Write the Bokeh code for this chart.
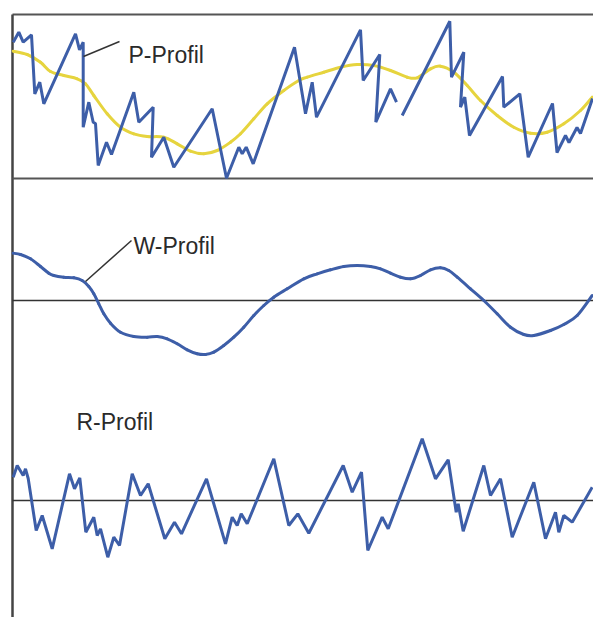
import numpy as np
from bokeh.plotting import figure
from bokeh.models import Range1d, Label
from bokeh.embed import file_html
from bokeh.resources import INLINE

# ---- data: profile positions (along the trace) and deviations (up = positive) ----
p_x = [0.7, 6.3, 10.7, 19, 22.3, 27.3, 31.3, 63, 67, 70.7, 70.7, 76.3, 80.7, 83, 85.7, 94, 99,
       121.3, 126.3, 140.7, 139, 151.3, 161.3, 199.7, 214, 226.3, 229.7, 233.7, 240.7, 282, 293,
       299.7, 304, 348, 350.7, 367.3, 363.3, 378, 384, np.nan, 389.7, 437.3, 439, 451.3, 448,
       452.3, 457, 490, 491.3, 507.3, 515.7, 540, 544.5, 553, 556.5, 564.5, 568, 580]
p_h = [136.3, 146.3, 136.3, 143.7, 84.7, 96.3, 74.7, 144.7, 128.7, 136.3, 51.3, 76.3, 56.3, 55, 13,
       36.3, 24, 86.3, 56.3, 71.3, 21.3, 41.3, 11.3, 69.7, 0.3, 31.3, 24.7, 31.3, 14.7, 131.3, 64.7,
       96.3, 61.3, 148.7, 98, 124, 56.3, 89.7, 76.3, np.nan, 63, 157.3, 101.3, 126.3, 71.3,
       81.3, 43, 102, 71.3, 84.7, 21.3, 75, 26, 43, 36, 51, 45, 80]

m_x = [0.7, 14.7, 28, 38, 51.3, 64.7, 73, 81.3, 94.7, 108, 121.3, 134.7, 151.3, 164.7, 178, 191.3,
       204.7, 218, 228, 241.3, 254.7, 271.3, 286.3, 294.7, 311.3, 328, 344.7, 361.3, 378, 394.7,
       404.7, 418, 428, 441.3, 454.7, 468, 484.7, 501.3, 518, 534.7, 551.3, 568, 579.7]
m_h = [127.3, 124, 116.3, 107, 103, 99.7, 94.7, 83, 64.7, 51.3, 44.7, 42, 41.3, 34.7, 27.3, 24.7,
       28, 36.3, 44.7, 59.7, 74.7, 88, 98, 101.3, 106.3, 111.3, 114, 113, 108, 101.3,
       100.7, 109.7, 112.3, 106.3, 93, 78, 63, 51.3, 45.3, 46.3, 54.7, 68, 81.3]

w_x = [0.7, 8, 18, 28, 36.3, 41.3, 51.3, 61.3, 69.7, 76.3, 81.3, 86.3, 91.3, 98, 108, 121.3,
       134.7, 144.7, 154.7, 164.7, 174.7, 184.7, 193, 201.3, 211.3, 221.3, 231.3, 241.3, 251.3,
       261.3, 274.7, 291.3, 304.7, 318, 331.3, 344.7, 358, 368, 378, 388, 398, 408, 418, 428,
       436.3, 444.7, 458, 471.3, 484.7, 498, 511.3, 521.3, 538, 551.3, 564.7, 579.7]
w_h = [47.3, 46, 41.7, 34, 27.3, 25, 23.3, 22.7, 20, 14, 6.7, -3.3, -13.3, -22.7, -31.7, -36,
       -36.7, -36, -38.3, -43.3, -49.3, -53.3, -54, -51.7, -45, -36.7, -26.7, -15, -5,
       3.3, 11.7, 21.7, 26.7, 30.7, 34, 35, 34, 31.7, 27.3, 23.3, 21.7, 25, 30.7, 32.7,
       30, 23.3, 11.7, 0, -13.3, -26.7, -34, -35, -30, -24, -15, 5]

r_x = [0.7, 4.7, 10.7, 13, 15.7, 23.7, 29.7, 39.7, 57, 62, 67.3, 73.3, 81.3, 84.7, 88, 95.3, 101.3,
       107, 119.7, 128, 135.7, 152.3, 162, 169, 194, 213, 219.7, 224.7, 228.7, 234.7, 261.3,
       276.3, 285.3, 296.3, 330.7, 339.7, 349, 355.3, 369.7, 375.7, 409.7, 423, 435.7, 443.7,
       445.7, 450.7, 471.3, 478, 488, 499.7, 521.3, 533, 543, 546.3, 551.3, 559.7, 579.7]
r_h = [23.3, 35, 25, 31.7, 22, -30, -15, -48.3, 26.7, 11.7, 22.7, -31.7, -16.7, -35, -28.3, -56.7,
       -36.7, -45, 26.7, 5, 16.7, -38.3, -21.7, -33.3, 21.7, -43.3, -16.7, -25, -13.3, -23.3,
       41.7, -25, -13.3, -32.7, 35, 8.3, 28.3, -50, -16.7, -28.3, 61.7, 21.7, 40.7, -11.7,
       -3.3, -30.7, 35, 5, 21.7, -36.7, 18.3, -38.3, -11.7, -31.7, -15, -21.7, 13.3]

labels = ["P-Profil", "W-Profil", "R-Profil"]

# ---- layout (screen units) ----
W, H = 593, 617
X0 = 12          # left axis
TOP = 14         # top frame line
P_BASE = 178     # bottom of P panel
W_BASE = 300     # W baseline
R_BASE = 500     # R baseline

BLUE = "#3d5ea8"
YELLOW = "#e6d43e"

p = figure(width=W, height=H, x_range=Range1d(0, W), y_range=Range1d(H, 0),
           output_backend="svg", toolbar_location=None, min_border=0)
p.axis.visible = False
p.grid.visible = False
p.outline_line_color = None
p.background_fill_color = "white"
p.border_fill_color = "white"


def sx(a):
    return X0 + np.array(a, dtype=float)


def sy(base, a):
    return base - np.array(a, dtype=float)


def smooth(xs, ys, color, width):
    """Draw a smooth (Catmull-Rom style) curve through the given points."""
    xs = np.asarray(xs, float)
    ys = np.asarray(ys, float)
    n = len(xs)
    x0, y0, x1, y1, cx0, cy0, cx1, cy1 = ([] for _ in range(8))
    for i in range(n - 1):
        a = max(i - 1, 0)
        d = min(i + 2, n - 1)
        x0.append(xs[i]); y0.append(ys[i])
        x1.append(xs[i + 1]); y1.append(ys[i + 1])
        cx0.append(xs[i] + (xs[i + 1] - xs[a]) / 6)
        cy0.append(ys[i] + (ys[i + 1] - ys[a]) / 6)
        cx1.append(xs[i + 1] - (xs[d] - xs[i]) / 6)
        cy1.append(ys[i + 1] - (ys[d] - ys[i]) / 6)
    p.bezier(x0=x0, y0=y0, x1=x1, y1=y1, cx0=cx0, cy0=cy0, cx1=cx1, cy1=cy1,
             line_color=color, line_width=width, line_cap="round")


# frame
p.line([X0, W], [TOP, TOP], line_color="#555555", line_width=2.2)
p.line([X0, X0], [TOP, H], line_color="#444444", line_width=2.5)
p.line([X0, W], [P_BASE, P_BASE], line_color="#555555", line_width=2)
p.line([X0, W], [W_BASE, W_BASE], line_color="#333333", line_width=1.4)
p.line([X0, W], [R_BASE, R_BASE], line_color="#333333", line_width=1.4)

# profiles
smooth(sx(m_x), sy(P_BASE, m_h), YELLOW, 3)
p.line(sx(p_x), sy(P_BASE, p_h), line_color=BLUE, line_width=3)
smooth(sx(w_x), sy(W_BASE, w_h), BLUE, 3)
p.line(sx(r_x), sy(R_BASE, r_h), line_color=BLUE, line_width=3)

# leader lines
p.line([83, 119], [56, 41], line_color="#333333", line_width=1.5)
p.line([85, 131], [281, 240], line_color="#333333", line_width=1.5)

# labels
for txt, x, y in zip(labels, [128, 133, 76], [54.5, 245, 421]):
    p.add_layout(Label(x=x, y=y, text=txt, text_font="Liberation Sans",
                       text_font_size="23px", text_baseline="alphabetic",
                       text_color="#2a2a2a"))

open("out.html", "w").write(file_html(p, INLINE))
